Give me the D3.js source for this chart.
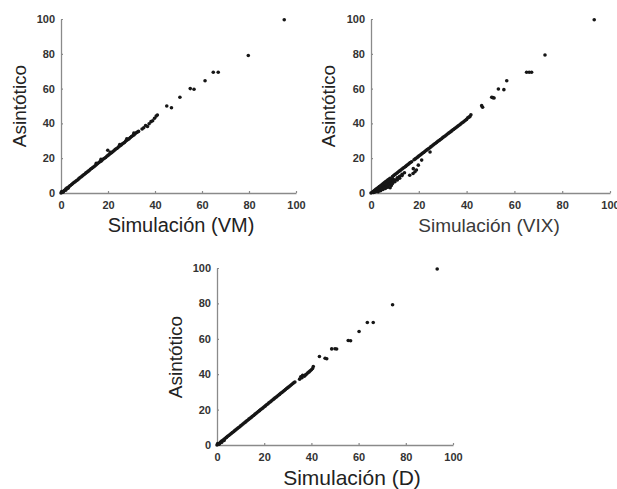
<!DOCTYPE html>
<html>
<head>
<meta charset="utf-8">
<script src="https://d3js.org/d3.v7.min.js"></script>
<style>
  body { margin: 0; background: #fff; }
  svg { display: block; }
</style>
</head>
<body>
<svg width="617" height="489"></svg>
<script>
    var width = 617;
    var height = 489;

    var ticks = [0, 20, 40, 60, 80, 100];

    // Simulación (VM) vs Asintótico
    var simVM = [0, 0.3, 0.6, 1, 1, 1.5, 2, 2, 2.5, 3, 3, 3.5, 4, 4.5, 5, 5.5, 6, 6.5, 7, 7.5, 8, 8.5, 9, 9.5, 10, 10.5,
        11, 11.5, 12, 12.5, 13, 13.5, 14, 14.5, 15, 15, 15.5, 16, 16.5, 17, 17, 17.5, 18, 18.5, 19, 19.5, 19.9, 20, 20.5, 21, 21,
        21.5, 22, 22.5, 23, 23.5, 24, 24.5, 25, 25, 25.5, 26, 26.5, 27, 27.5, 28, 28, 28.5, 29, 29.5, 30, 30.5, 31, 31, 31.5, 32,
        32.5, 33, 34.5, 35.2, 36, 36.8, 37.5, 38.3, 39, 39.8, 40.5, 41,
        45, 47, 50.6, 55, 56.6, 61.3, 64.8, 66.9, 79.7, 95];
    var asiVM = [0, 0.8, 0.5, 1, 0.6, 1.6, 2.2, 1.6, 2.8, 3.2, 2.7, 3.8, 4.3, 4.9, 5.4, 6, 6.5, 7, 7.5, 8.1, 8.7, 9.2, 9.7, 10.3, 10.8, 11.4,
        11.9, 12.4, 12.9, 13.6, 14.1, 14.6, 15.1, 15.7, 16.2, 17.1, 16.8, 17.4, 17.9, 18.3, 19.3, 18.9, 19.5, 20, 20.4, 21.1, 24.6, 21.6, 22.1, 22.7, 23.4,
        23.2, 23.7, 24.3, 24.9, 25.4, 25.8, 26.5, 27, 27.9, 27.5, 28.1, 28.6, 29, 29.8, 30.3, 31.2, 30.8, 31.2, 31.9, 32.4, 32.9, 33.4, 34.4, 34, 34.6,
        35, 35.4, 36.8, 37.5, 38.8, 38.2, 39.8, 41, 41.5, 43, 44.2, 44.8,
        50, 49, 55, 60, 59.6, 64.5, 69.4, 69.4, 79, 99.6];

    // Simulación (VIX) vs Asintótico
    var simVIX = [0, 0.5, 1, 1, 1.5, 2, 2, 2.5, 3, 3, 3, 3.5, 4, 4, 4, 4.5, 5, 5, 5, 5.5, 6, 6, 6, 6.5, 7, 7, 7, 7.5, 8, 8, 8.5,
        9, 9, 9.5, 10, 10, 10.5, 11, 11, 11.5, 12, 12, 12.5, 13, 13, 13.5, 14, 14, 14.5, 15, 15.5, 16, 16.2, 16.5, 17, 17.6, 17.7, 18, 18.4,
        18.5, 19, 19, 19.5, 19.8, 20, 20.5, 21, 21.2, 21.5, 22, 22.5, 23, 23.5, 24, 24.5, 24.7, 25, 25.5, 26, 26.5, 27, 27.5, 28, 28.5,
        29, 29.5, 30, 30.5, 31, 31.5, 32, 32.5, 33, 33.5, 34, 34.5, 35, 35.5, 36, 36.5, 37, 37.5, 38, 38.5, 39, 39.5, 40, 40.5, 41, 41.4, 41.8,
        46.3, 46.7, 50.5, 51, 51.5, 53.3, 55.6, 56.8, 65.1, 66.2, 67.2, 72.8, 93.4,
        1, 1.5, 2, 2.5, 3, 3.5, 4, 4.5, 5, 5.5, 6, 6.5, 7, 7.5, 8, 8, 8.5, 9, 9, 9.5, 10, 11, 12, 13];
    var asiVIX = [0, 0.4, 1, 0.3, 1.5, 2.1, 0.8, 2.6, 3.2, 1.5, 0.7, 3.7, 4.2, 2.6, 1.3, 4.7, 5.3, 3.4, 2, 5.8, 6.4, 4.2, 2.6, 6.9, 7.4, 5.2, 3.3, 7.9, 8.5, 6, 4.3,
        9.5, 6.8, 10, 10.6, 7.6, 11.1, 11.6, 8.7, 12.2, 12.7, 9.6, 13.2, 13.8, 10.8, 14.3, 14.8, 11.6, 15.3, 15.9, 16.4, 17, 10.2, 17.5, 18, 11.2, 14, 19.1, 12.2,
        19.6, 20.1, 13.2, 20.6, 16, 21.2, 21.7, 22.3, 18.9, 22.8, 23.3, 23.8, 24.4, 24.9, 25.4, 25.9, 23.6, 26.5, 27, 27.6, 28.1, 28.6, 29.1, 29.7, 30.2,
        30.7, 31.2, 31.8, 32.3, 32.8, 33.3, 33.9, 34.4, 34.9, 35.4, 36, 36.5, 37, 37.5, 38.1, 38.6, 39.1, 39.6, 40.2, 40.7, 41.2, 41.8, 42.3, 43.2, 43.6, 44, 45,
        50.2, 49.3, 55, 54.8, 54.6, 59.8, 59.4, 64.5, 69.4, 69.4, 69.4, 79.3, 99.6,
        0.5, 0.6, 1.4, 1, 2.2, 1.5, 3.3, 2, 4.2, 3, 5, 3.5, 6, 4.5, 3, 7, 5.5, 5.5, 8, 7, 6.5, 7.5, 8.5, 10];

    // Simulación (D) vs Asintótico
    var simD = [0, 0.3, 0.6, 1, 1, 1.5, 2, 2, 2.5, 3, 3, 3.5, 4, 4.5, 5, 5.5, 6, 6.5, 7, 7.5, 8, 8.5, 9, 9.5, 10, 10.5,
        11, 11.5, 12, 12.5, 13, 13.5, 14, 14.5, 15, 15.5, 16, 16.5, 17, 17.5, 18, 18.5, 19, 19.5, 20, 20.5, 21, 21.5, 22, 22.5,
        23, 23.5, 24, 24.5, 25, 25.5, 26, 26.5, 27, 27.5, 28, 28.5, 29, 29.5, 30, 30.5, 31, 31.5, 32, 32.5, 33,
        35, 35.5, 36, 36.3, 37, 37.5, 38, 38.5, 39, 39.5, 40, 40.5, 40.8,
        43.4, 45.8, 46.5, 48.6, 50, 50.7, 55.6, 56.6, 60.2, 63.7, 66.2, 74.4, 93.3];
    var asiD = [0, 0.8, 0.4, 1, 0.5, 1.6, 2.2, 1.5, 2.7, 3.2, 2.6, 3.8, 4.3, 4.9, 5.4, 5.9, 6.5, 7, 7.5, 8.1, 8.6, 9.2, 9.7, 10.2, 10.8, 11.3,
        11.9, 12.4, 12.9, 13.5, 14, 14.6, 15.1, 15.6, 16.2, 16.7, 17.3, 17.8, 18.4, 18.9, 19.4, 20, 20.5, 21, 21.6, 22.1, 22.7, 23.2, 23.8, 24.3,
        24.8, 25.4, 25.9, 26.5, 27, 27.5, 28.1, 28.6, 29.2, 29.7, 30.2, 30.8, 31.3, 31.9, 32.4, 32.9, 33.5, 34, 34.6, 35.1, 35.6,
        37.2, 38.6, 38, 39.4, 38.9, 39.6, 40.1, 40.8, 41.3, 41.9, 42.5, 43.2, 44.3,
        50, 49, 48.7, 54.3, 54.4, 54.2, 59, 58.9, 64.1, 69.2, 69.2, 79.2, 99.4];

    var panels = [
        { sim: simVM, asi: asiVM, xTitle: 'Simulación (VM)', x0: 61, x1: 296, y0: 193, y1: 19, xtx: 181, xty: 232, ytx: 26, yty: 106, fs: 20, col: '#222' },
        { sim: simVIX, asi: asiVIX, xTitle: 'Simulación (VIX)', x0: 371, x1: 610, y0: 193, y1: 19, xtx: 489, xty: 232, ytx: 335, yty: 106, fs: 19, col: '#3a3a3a' },
        { sim: simD, asi: asiD, xTitle: 'Simulación (D)', x0: 217, x1: 453, y0: 445, y1: 268, xtx: 352, xty: 485, ytx: 182, yty: 357, fs: 21, col: '#222' }
    ];

    var svg = d3.select('svg')
        .attr('viewBox', [0, 0, width, height])
        .attr('font-family', 'Liberation Sans, Arial, sans-serif');

    panels.forEach(function(p) {
        var x_scale = d3.scaleLinear().domain([0, 100]).range([p.x0, p.x1]);
        var y_scale = d3.scaleLinear().domain([0, 100]).range([p.y0, p.y1]);

        var g = svg.append('g');

        var xAxis = g.append('g')
            .attr('transform', `translate(0,${p.y0})`)
            .call(d3.axisBottom(x_scale).tickValues(ticks).tickSizeInner(-2).tickSizeOuter(0).tickPadding(8));
        var yAxis = g.append('g')
            .attr('transform', `translate(${p.x0},0)`)
            .call(d3.axisLeft(y_scale).tickValues(ticks).tickSizeInner(-2).tickSizeOuter(0).tickPadding(6));

        [xAxis, yAxis].forEach(function(a) {
            a.select('.domain').attr('stroke', '#8a8a8a').attr('stroke-width', 1.3);
            a.selectAll('.tick line').attr('stroke', '#8a8a8a').attr('stroke-width', 1.2);
            a.selectAll('.tick text')
                .attr('fill', '#333')
                .attr('font-size', 11)
                .attr('font-weight', 'bold');
        });

        g.append('g')
            .selectAll('circle')
            .data(d3.range(p.sim.length))
            .join('circle')
            .attr('cx', i => x_scale(p.sim[i]))
            .attr('cy', i => y_scale(p.asi[i]))
            .attr('r', 1.8)
            .attr('fill', '#161616');

        g.append('text')
            .attr('x', p.xtx)
            .attr('y', p.xty)
            .attr('text-anchor', 'middle')
            .attr('font-size', p.fs)
            .attr('fill', p.col)
            .text(p.xTitle);

        g.append('text')
            .attr('transform', `translate(${p.ytx},${p.yty}) rotate(-90)`)
            .attr('text-anchor', 'middle')
            .attr('font-size', 19)
            .attr('fill', '#222')
            .text('Asintótico');
    });
</script>
</body>
</html>
